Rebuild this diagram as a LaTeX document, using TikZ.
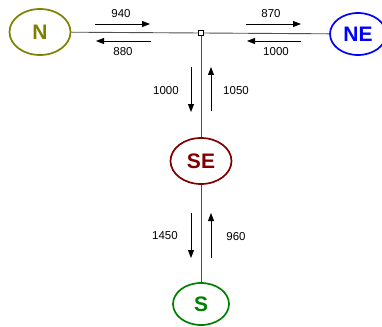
\documentclass[tikz,border=0pt]{standalone}
\usepackage{fontspec}
\setmainfont{Liberation Sans}
\usepackage{xcolor}
\usetikzlibrary{arrows.meta,shapes.geometric}
\definecolor{siteN}{HTML}{808000}
\definecolor{siteNE}{HTML}{0000FF}
\definecolor{siteSE}{HTML}{800000}
\definecolor{siteS}{HTML}{008000}
\definecolor{wire}{HTML}{505050}

\begin{document}
\begin{tikzpicture}[
  x=1pt, y=-1pt,
  site/.style={ellipse, draw=#1, text=#1, line width=1.7pt, fill=white,
               minimum width=61pt, minimum height=46pt, inner sep=0pt,
               font=\fontsize{21}{22}\selectfont\bfseries},
  link/.style={draw=wire, line width=0.9pt},
  flow/.style={-{Triangle[length=8pt,width=6pt]}, line width=0.8pt, black},
  qty/.style={font=\fontsize{11.5}{13}\selectfont, inner sep=0pt}
]
\useasboundingbox (0,0) rectangle (382,326);
% sites
\node[site=siteN] (n) at (40,32) {N};
\node[site=siteNE, minimum width=56pt, minimum height=42pt] (ne) at (358,34) {NE};
\node[site=siteSE] (se) at (201,161) {SE};
\node[site=siteS, minimum width=56pt, minimum height=42pt] (s) at (201,304) {S};
\node[draw, fill=white, line width=0.6pt, minimum size=5pt, inner sep=0pt] (j) at (201,33) {};
% lines
\draw[link] (n) -- (j);
\draw[link] (j) -- (ne);
\draw[link] (j) -- (se);
\draw[link] (se) -- (s);
% flow arrows
\coordinate (nw1) at (95,24);  \coordinate (nw2) at (150,24);
\coordinate (nw3) at (151,41); \coordinate (nw4) at (96,41);
\coordinate (ne1) at (246,24); \coordinate (ne2) at (301,24);
\coordinate (ne3) at (301,41); \coordinate (ne4) at (247,41);
\coordinate (up1) at (191,67); \coordinate (up2) at (191,112);
\coordinate (up3) at (211,111); \coordinate (up4) at (211,67);
\coordinate (lo1) at (191,213); \coordinate (lo2) at (191,258);
\coordinate (lo3) at (211,258); \coordinate (lo4) at (211,213);
\draw[flow] (nw1) -- (nw2);
\draw[flow] (nw3) -- (nw4);
\draw[flow] (ne1) -- (ne2);
\draw[flow] (ne3) -- (ne4);
\draw[flow] (up1) -- (up2);
\draw[flow] (up3) -- (up4);
\draw[flow] (lo1) -- (lo2);
\draw[flow] (lo3) -- (lo4);
% quantities
\node[qty] (q1) at (121,14) {940};
\node[qty] (q2) at (123,52) {880};
\node[qty] (q3) at (271,14) {870};
\node[qty] (q4) at (276,52) {1000};
\node[qty] (q5) at (166,91) {1000};
\node[qty] (q6) at (236,91) {1050};
\node[qty] (q7) at (165,236) {1450};
\node[qty] (q8) at (236,237) {960};
\end{tikzpicture}
\end{document}
